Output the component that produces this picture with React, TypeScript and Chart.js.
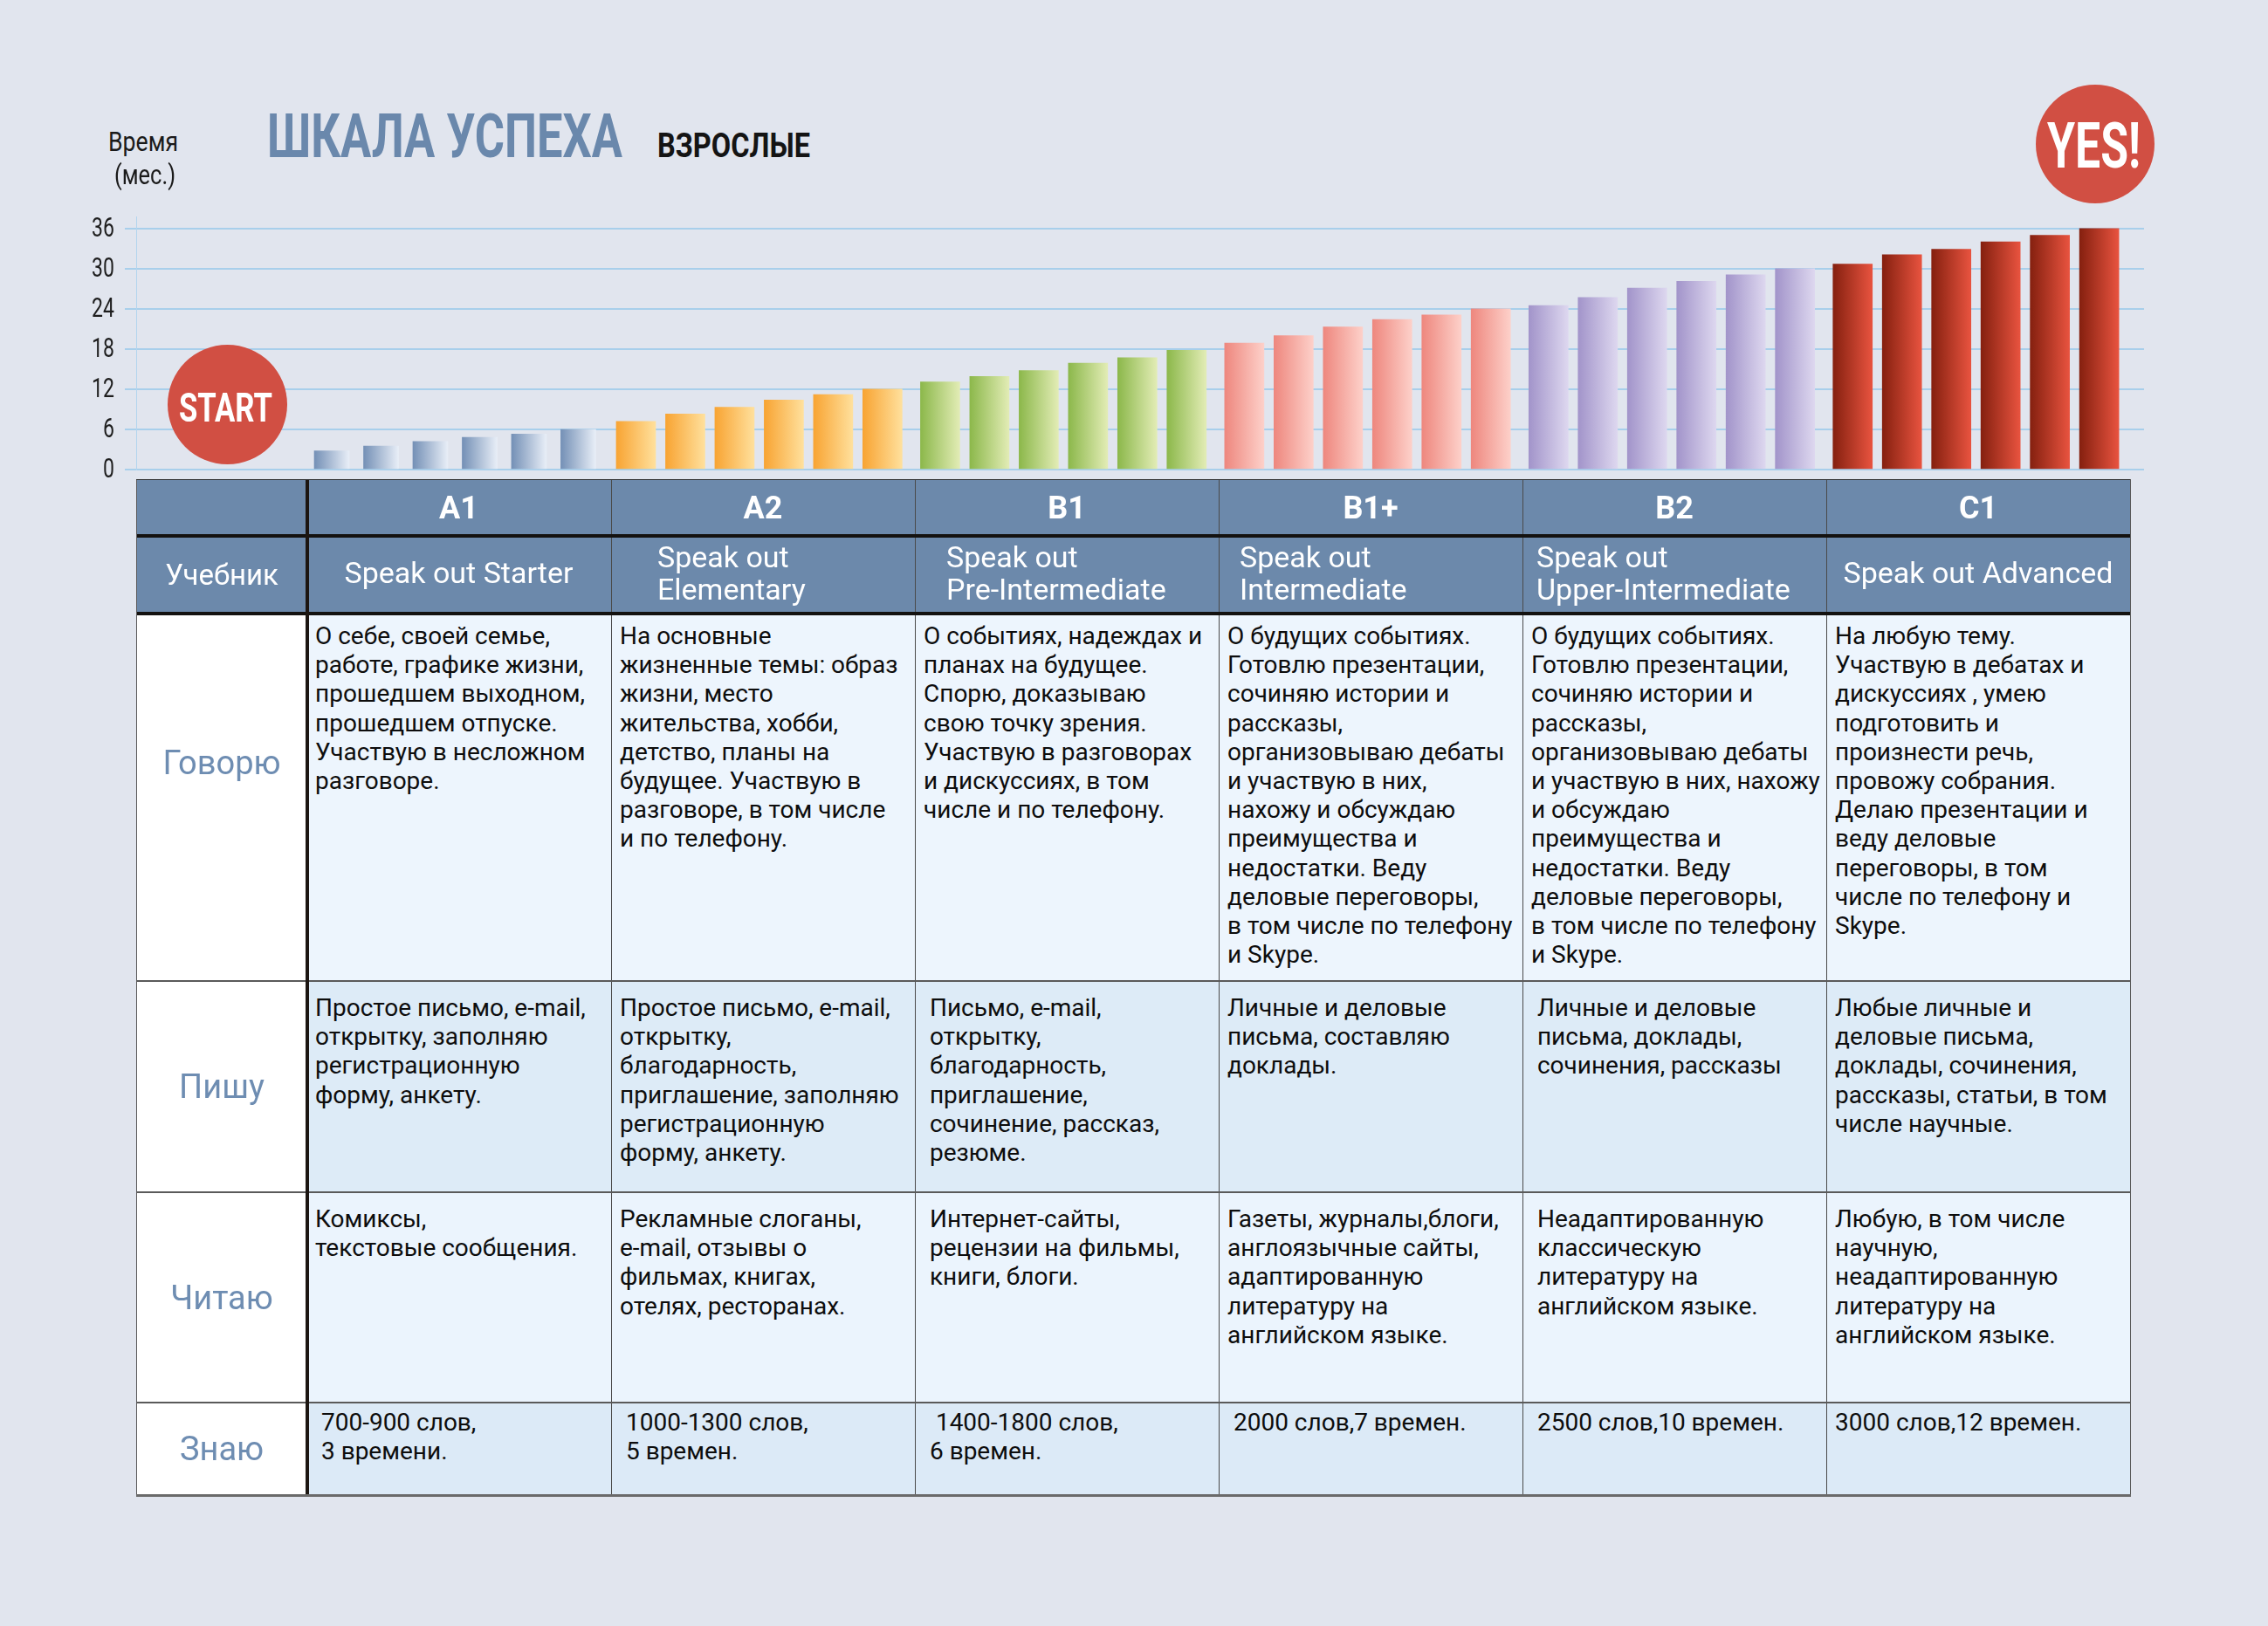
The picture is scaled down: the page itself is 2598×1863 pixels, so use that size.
import React, { useEffect, useLayoutEffect, useRef } from 'react';
import { Chart, registerables } from 'chart.js';

Chart.register(...registerables);

const FONT = 'Roboto, "Noto Sans", "DejaVu Sans", sans-serif';

// ---------- DATA ----------
const LEVELS = ['A1', 'A2', 'B1', 'B1+', 'B2', 'C1'];
const MONTHS_A1 = [2.8, 3.5, 4.2, 4.8, 5.3, 6];
const MONTHS_A2 = [7.2, 8.3, 9.3, 10.4, 11.2, 12];
const MONTHS_B1 = [13.1, 13.9, 14.8, 15.9, 16.7, 17.8];
const MONTHS_B1P = [18.9, 20, 21.3, 22.4, 23.1, 24];
const MONTHS_B2 = [24.5, 25.7, 27.1, 28.1, 29.1, 30];
const MONTHS_C1 = [30.7, 32.1, 32.9, 34, 35, 36];
const Y_STEP = 6;
const Y_MAX_TICK = 36;

const TITLE = 'ШКАЛА УСПЕХА';
const SUBTITLE = 'ВЗРОСЛЫЕ';
const AXIS_TITLE = ['Время', '(мес.)'];
const START_LABEL = 'START';
const FINISH_LABEL = 'YES!';

const ROW_LABELS = ['Учебник', 'Говорю', 'Пишу', 'Читаю', 'Знаю'];
const BOOKS = [
  ['Speak out Starter'],
  ['Speak out', 'Elementary'],
  ['Speak out', 'Pre-Intermediate'],
  ['Speak out', 'Intermediate'],
  ['Speak out', 'Upper-Intermediate'],
  ['Speak out Advanced'],
];
const SPEAK = [
  ['О себе, своей семье,', 'работе, графике жизни,', 'прошедшем выходном,', 'прошедшем отпуске.', 'Участвую в несложном', 'разговоре.'],
  ['На основные', 'жизненные темы: образ', 'жизни, место', 'жительства, хобби,', 'детство, планы на', 'будущее. Участвую в', 'разговоре, в том числе', 'и по телефону.'],
  ['О событиях, надеждах и', 'планах на будущее.', 'Спорю, доказываю', 'свою точку зрения.', 'Участвую в разговорах', 'и дискуссиях, в том', 'числе и по телефону.'],
  ['О будущих событиях.', 'Готовлю презентации,', 'сочиняю истории и', 'рассказы,', 'организовываю дебаты', 'и участвую в них,', 'нахожу и обсуждаю', 'преимущества и', 'недостатки. Веду', 'деловые переговоры,', 'в том числе по телефону', 'и Skype.'],
  ['О будущих событиях.', 'Готовлю презентации,', 'сочиняю истории и', 'рассказы,', 'организовываю дебаты', 'и участвую в них, нахожу', 'и обсуждаю', 'преимущества и', 'недостатки. Веду', 'деловые переговоры,', 'в том числе по телефону', 'и Skype.'],
  ['На любую тему.', 'Участвую в дебатах и', 'дискуссиях , умею', 'подготовить и', 'произнести речь,', 'провожу собрания.', 'Делаю презентации и', 'веду деловые', 'переговоры, в том', 'числе по телефону и', 'Skype.'],
];
const WRITE = [
  ['Простое письмо, e-mail,', 'открытку, заполняю', 'регистрационную', 'форму, анкету.'],
  ['Простое письмо, e-mail,', 'открытку,', 'благодарность,', 'приглашение, заполняю', 'регистрационную', 'форму, анкету.'],
  [' Письмо, e-mail,', ' открытку,', ' благодарность,', ' приглашение,', ' сочинение, рассказ,', ' резюме.'],
  ['Личные и деловые', 'письма, составляю', 'доклады.'],
  [' Личные и деловые', ' письма, доклады,', ' сочинения, рассказы'],
  ['Любые личные и', 'деловые письма,', 'доклады, сочинения,', 'рассказы, статьи, в том', 'числе научные.'],
];
const READ = [
  ['Комиксы,', 'текстовые сообщения.'],
  ['Рекламные слоганы,', 'e-mail, отзывы о', 'фильмах, книгах,', 'отелях, ресторанах.'],
  [' Интернет-сайты,', ' рецензии на фильмы,', ' книги, блоги.'],
  ['Газеты, журналы,блоги,', 'англоязычные сайты,', 'адаптированную', 'литературу на', 'английском языке.'],
  [' Неадаптированную', ' классическую', ' литературу на', ' английском языке.'],
  ['Любую, в том числе', 'научную,', 'неадаптированную', 'литературу на', 'английском языке.'],
];
const KNOW = [
  [' 700-900 слов,', ' 3 времени.'],
  [' 1000-1300 слов,', ' 5 времен.'],
  ['  1400-1800 слов,', ' 6 времен.'],
  [' 2000 слов,7 времен.'],
  [' 2500 слов,10 времен.'],
  ['3000 слов,12 времен.'],
];

// ---------- STYLE / LAYOUT ----------
const PAGE_BG = '#E1E5EE';
const HEADER_BG = '#6C89AB';
const LABEL_COLOR = '#6E8DB2';
const GRID_COLOR = '#A8CFEB';
const CIRCLE_RED = '#D14F43';
const GROUP_COLORS: [string, string][] = [
  ['#7490B6', '#E8EEF7'],
  ['#F8A433', '#FFE09C'],
  ['#8CB84B', '#E2ECB5'],
  ['#EE877E', '#FDD0C9'],
  ['#A294CA', '#DDD7EF'],
  ['#85200F', '#E8533F'],
];
const BAR_W = [40, 45, 45, 45, 45, 45];
const GROUP_GAP = 0.17;
const COL_X = [157, 351, 700, 1048, 1396, 1744, 2092, 2440];
const BODY_ROWS = [705, 1124, 1366, 1607, 1713];
const ROW_BG = ['#EDF5FD', '#DDEBF7', '#EBF4FD', '#DCEAF7'];
const ROW_PAD_TOP = [7, 14, 14, 6];
const BOOK_PAD = [0, 53, 36, 24, 16, 0];
const LABEL_SHIFT = [-41, 0, 0, 0];

function Fit(props: { x: number; base: number; fs: number; w: number; center?: boolean; weight?: number; color: string; children: any }) {
  const ref = useRef<HTMLDivElement>(null);
  useLayoutEffect(() => {
    const el = ref.current;
    if (!el) return;
    const apply = () => {
      el.style.transform = 'none';
      const n = el.getBoundingClientRect().width;
      if (n > 0) el.style.transform = `scaleX(${props.w / n})`;
    };
    apply();
    const f = (document as any).fonts;
    if (f && f.ready) f.ready.then(apply);
  }, [props.w]);
  return (
    <div
      ref={ref}
      style={{
        position: 'absolute',
        left: props.center ? props.x - props.w / 2 : props.x,
        top: props.base - 0.842 * props.fs,
        fontSize: props.fs,
        lineHeight: `${props.fs}px`,
        fontWeight: props.weight || 400,
        color: props.color,
        whiteSpace: 'nowrap',
        transformOrigin: 'left top',
        fontFamily: FONT,
      }}
    >
      {props.children}
    </div>
  );
}

function BarChart() {
  const ref = useRef<HTMLCanvasElement>(null);
  useEffect(() => {
    const canvas = ref.current;
    if (!canvas) return;
    const series = [MONTHS_A1, MONTHS_A2, MONTHS_B1, MONTHS_B1P, MONTHS_B2, MONTHS_C1];
    const datasets = series.map((vals, g) => ({
      label: LEVELS[g],
      data: vals.map((v, i) => ({ x: g * 6 + i + g * GROUP_GAP, y: v })),
      barThickness: BAR_W[g],
      grouped: false,
      borderWidth: 0,
      backgroundColor: (c: any) => {
        const chart = c.chart;
        const xs = chart.scales && chart.scales.x;
        if (!xs || !c.raw || typeof c.raw.x !== 'number') return GROUP_COLORS[g][0];
        const cx = xs.getPixelForValue(c.raw.x);
        const half = BAR_W[g] / 2;
        if (!isFinite(cx)) return GROUP_COLORS[g][0];
        const gr = chart.ctx.createLinearGradient(cx - half, 0, cx + half, 0);
        gr.addColorStop(0, GROUP_COLORS[g][0]);
        gr.addColorStop(1, GROUP_COLORS[g][1]);
        return gr;
      },
    }));
    const tickPlugin = {
      id: 'condensedTicks',
      afterDraw(chart: any) {
        const s = chart.scales.y;
        const ctx = chart.ctx;
        ctx.save();
        ctx.fillStyle = '#1e1e1e';
        ctx.font = `32px ${FONT}`;
        ctx.textAlign = 'right';
        ctx.textBaseline = 'middle';
        s.ticks.forEach((t: any) => {
          const y = s.getPixelForValue(t.value);
          ctx.save();
          ctx.translate(131, y + 1);
          ctx.scale(0.72, 1);
          ctx.fillText(String(t.value), 0, 0);
          ctx.restore();
        });
        ctx.restore();
      },
    };
    const chart = new Chart(canvas, {
      type: 'bar',
      data: { datasets } as any,
      options: {
        animation: false,
        responsive: false,
        maintainAspectRatio: false,
        layout: { padding: { left: 0, right: 142, top: 48, bottom: 42 } },
        plugins: { legend: { display: false }, tooltip: { enabled: false }, title: { display: false } },
        scales: {
          x: { type: 'linear', display: false, offset: false, bounds: 'data', min: -3.967, max: 36.76, grid: { offset: false } },
          y: {
            min: 0,
            max: Y_MAX_TICK + 1.8,
            afterFit: (s: any) => { s.width = 156; },
            ticks: { stepSize: Y_STEP, includeBounds: false, display: false },
            grid: { color: GRID_COLOR, lineWidth: 2, tickLength: 13, drawTicks: true },
            border: { display: true, color: '#B3D5EE', width: 1 },
          },
        },
      } as any,
      plugins: [tickPlugin],
    });
    return () => chart.destroy();
  }, []);
  return <canvas ref={ref} width={2598} height={380} style={{ position: 'absolute', left: 0, top: 200, width: 2598, height: 380 }} />;
}

function Lines({ lines, max }: { lines: string[]; max: number }) {
  return (
    <>
      {lines.map((l, i) => (
        <div key={i} style={{ whiteSpace: 'pre', height: 33.2 }}>
          <span data-fit={max} style={{ display: 'inline-block', transformOrigin: 'left center' }}>{l}</span>
        </div>
      ))}
    </>
  );
}

function Box(p: { x: number; y: number; w: number; h: number; bg: string }) {
  return <div style={{ position: 'absolute', left: p.x, top: p.y, width: p.w, height: p.h, background: p.bg }} />;
}

function Table() {
  const left = COL_X[0];
  const right = COL_X[7];
  const W = right - left;
  const bodies = [SPEAK, WRITE, READ, KNOW];
  const els: any[] = [];
  els.push(<Box key="h1" x={left} y={550} w={W} h={62} bg={HEADER_BG} />);
  els.push(<Box key="h2" x={left} y={616} w={W} h={85} bg={HEADER_BG} />);
  for (let r = 0; r < 4; r++) {
    const y0 = BODY_ROWS[r];
    const y1 = BODY_ROWS[r + 1];
    els.push(<Box key={'w' + r} x={left} y={y0} w={COL_X[1] - left} h={y1 - y0} bg="#FFFFFF" />);
    els.push(<Box key={'b' + r} x={COL_X[1]} y={y0} w={right - COL_X[1]} h={y1 - y0} bg={ROW_BG[r]} />);
  }
  LEVELS.forEach((lv, c) => {
    els.push(
      <div key={'lv' + c} style={{ position: 'absolute', left: COL_X[c + 1], top: 551, width: COL_X[c + 2] - COL_X[c + 1], height: 62, display: 'flex', alignItems: 'center', justifyContent: 'center', color: '#fff', fontWeight: 700, fontSize: 36, lineHeight: '36px' }}>{lv}</div>
    );
  });
  els.push(
    <div key="book-label" style={{ position: 'absolute', left, top: 616, width: COL_X[1] - left, height: 85, display: 'flex', alignItems: 'center', justifyContent: 'center', color: '#fff', fontSize: 33, lineHeight: '33px' }}>{ROW_LABELS[0]}</div>
  );
  BOOKS.forEach((b, c) => {
    const x0 = COL_X[c + 1];
    const w = COL_X[c + 2] - x0;
    els.push(
      <div key={'bk' + c} style={{ position: 'absolute', left: x0, top: 614, width: w, height: 85, display: 'flex', flexDirection: 'column', alignItems: BOOK_PAD[c] ? 'flex-start' : 'center', justifyContent: 'center', color: '#fff', fontSize: 34, lineHeight: '37px', paddingLeft: BOOK_PAD[c], boxSizing: 'border-box' }}>
        {b.map((l, i) => (
          <div key={i} style={{ whiteSpace: 'nowrap' }}><span data-fit={w - BOOK_PAD[c] - 8} style={{ display: 'inline-block', transformOrigin: 'left center' }}>{l}</span></div>
        ))}
      </div>
    );
  });
  bodies.forEach((rows, r) => {
    const y0 = BODY_ROWS[r];
    const y1 = BODY_ROWS[r + 1];
    els.push(
      <div key={'rl' + r} style={{ position: 'absolute', left, top: y0 + LABEL_SHIFT[r], width: COL_X[1] - left, height: y1 - y0, display: 'flex', alignItems: 'center', justifyContent: 'center', color: LABEL_COLOR, fontSize: 38, lineHeight: '38px' }}>{ROW_LABELS[r + 1]}</div>
    );
    rows.forEach((lines, c) => {
      const x0 = COL_X[c + 1];
      const w = COL_X[c + 2] - x0;
      els.push(
        <div key={'t' + r + '_' + c} style={{ position: 'absolute', left: x0 + 10, top: y0 + ROW_PAD_TOP[r], width: w - 12, color: '#0d0d0d', fontSize: 28, lineHeight: '33.2px' }}>
          <Lines lines={lines} max={w - 13} />
        </div>
      );
    });
  });
  const H = 1713 - 550;
  COL_X.slice(2, 7).forEach((x, i) => els.push(<Box key={'vl' + i} x={x - 0.5} y={550} w={1.2} h={H} bg="#4a4a4a" />));
  [1124, 1366, 1607].forEach((y, i) => els.push(<Box key={'hl' + i} x={left} y={y - 1} w={W} h={1.5} bg="#5a5a5a" />));
  els.push(<Box key="thick1" x={left} y={612} w={W} h={4} bg="#141210" />);
  els.push(<Box key="thick2" x={left} y={701} w={W} h={4} bg="#141210" />);
  els.push(<Box key="thickv" x={349.5} y={550} w={4} h={H} bg="#1c1612" />);
  els.push(<Box key="ol" x={left - 1} y={549} w={1.3} h={H + 2} bg="#5a5a5a" />);
  els.push(<Box key="or" x={right - 0.5} y={549} w={1.3} h={H + 2} bg="#5a5a5a" />);
  els.push(<Box key="ot" x={left - 1} y={549} w={W + 1} h={1.3} bg="#333" />);
  els.push(<Box key="ob" x={left - 1} y={1712} w={W + 1.5} h={3} bg="#6a6a6a" />);
  return <>{els}</>;
}

export default function App() {
  useLayoutEffect(() => {
    const apply = () => {
      document.querySelectorAll<HTMLElement>('[data-fit]').forEach((el) => {
        el.style.transform = 'none';
        const max = Number(el.dataset.fit);
        const w = el.getBoundingClientRect().width;
        if (w > max) el.style.transform = `scaleX(${max / w})`;
      });
    };
    apply();
    const f = (document as any).fonts;
    if (f && f.ready) f.ready.then(apply);
  }, []);
  return (
    <div style={{ position: 'absolute', left: 0, top: 0, width: 2598, height: 1863, background: PAGE_BG, overflow: 'hidden', fontFamily: FONT }}>
      <BarChart />
      <Fit x={306} base={180} fs={70} w={407} weight={700} color="#6A88AC">{TITLE}</Fit>
      <Fit x={753} base={180} fs={38} w={175} weight={700} color="#141414">{SUBTITLE}</Fit>
      <Fit x={164} base={173} fs={32} w={80} center color="#1a1a1a">{AXIS_TITLE[0]}</Fit>
      <Fit x={166} base={211} fs={32} w={70} center color="#1a1a1a">{AXIS_TITLE[1]}</Fit>
      <div style={{ position: 'absolute', left: 260 - 68.5, top: 463.5 - 68.5, width: 137, height: 137, borderRadius: '50%', background: CIRCLE_RED }} />
      <Fit x={258} base={483} fs={47} w={107} center weight={700} color="#ffffff">{START_LABEL}</Fit>
      <div style={{ position: 'absolute', left: 2400 - 68, top: 165 - 68, width: 136, height: 136, borderRadius: '50%', background: CIRCLE_RED }} />
      <Fit x={2398} base={193} fs={72} w={107} center weight={700} color="#ffffff">{FINISH_LABEL}</Fit>
      <Table />
    </div>
  );
}
